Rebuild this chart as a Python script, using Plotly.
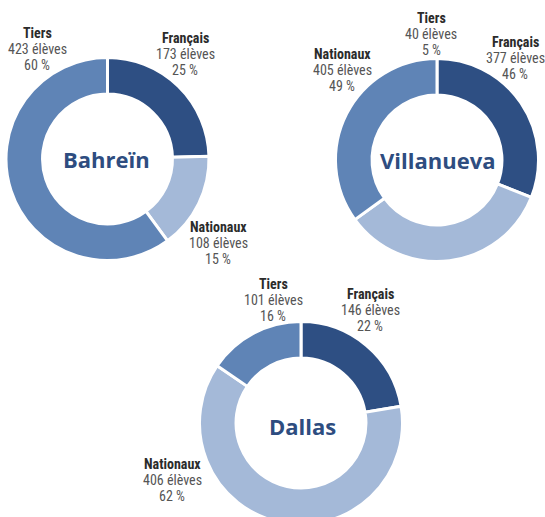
import plotly.graph_objects as go

W, H = 545, 526  # page viewport is 517 tall; the Dallas ring runs off the bottom edge

categories = ["Français", "Nationaux", "Tiers"]

bahrein_eleves = [173, 108, 423]
bahrein_pct = [25, 15, 60]

villanueva_eleves = [377, 405, 40]
villanueva_pct = [46, 49, 5]
# slice sizes as actually drawn in the reference for Villanueva (%)
villanueva_drawn = [31, 34, 35]

dallas_eleves = [146, 406, 101]
dallas_pct = [22, 62, 16]

DARK = "#2E4F83"
LIGHT = "#A4B9D8"
MID = "#5F84B6"
TITLE_COL = "#2E4D80"
colors = [DARK, LIGHT, MID]

LABEL_FONT = "Roboto Condensed, DejaVu Sans Condensed, sans-serif"
TITLE_FONT = "Open Sans, sans-serif"


def px_dom(cx, cy, r):
    return dict(x=[(cx - r) / W, (cx + r) / W],
                y=[max(0.0, 1 - (cy + r) / H), min(1.0, 1 - (cy - r) / H)])


fig = go.Figure()

pies = [
    ("Bahreïn", bahrein_eleves, (107.5, 159.0, 101.5)),
    ("Villanueva", villanueva_drawn, (437.0, 160.0, 101.5)),
    ("Dallas", dallas_eleves, (301.0, 423.0, 101.5)),
]
for name, vals, (cx, cy, r) in pies:
    fig.add_trace(go.Pie(
        labels=categories, values=vals, name=name,
        hole=0.64, sort=False, direction="clockwise", rotation=0,
        marker=dict(colors=colors, line=dict(color="white", width=3)),
        textinfo="none", hoverinfo="label+value",
        domain=px_dom(cx, cy, r), showlegend=False,
    ))

annotations = []


def add_text(x, y, text, size, color, family, bold=False):
    annotations.append(dict(
        x=x / W, y=1 - y / H, xref="paper", yref="paper",
        text=f"<b>{text}</b>" if bold else text,
        showarrow=False, xanchor="center", yanchor="middle",
        font=dict(size=size, color=color, family=family),
    ))


def add_label(x, y0, cat, n, p):
    add_text(x, y0, cat, 14, "#2b2b2b", LABEL_FONT, bold=True)
    add_text(x, y0 + 16, f"{n} élèves", 14, "#555555", LABEL_FONT)
    add_text(x, y0 + 32, f"{p} %", 14, "#555555", LABEL_FONT)


# label placements (px): Français, Nationaux, Tiers
bahrein_pos = [(185, 38), (218, 227), (37, 33)]
villanueva_pos = [(515, 42), (342, 54), (431, 18)]
dallas_pos = [(370, 294), (172, 464), (273, 284)]

for pos, ns, ps in [(bahrein_pos, bahrein_eleves, bahrein_pct),
                    (villanueva_pos, villanueva_eleves, villanueva_pct),
                    (dallas_pos, dallas_eleves, dallas_pct)]:
    for (x, y), cat, n, p in zip(pos, categories, ns, ps):
        add_label(x, y, cat, n, p)

add_text(106.5, 159, "Bahreïn", 22, TITLE_COL, TITLE_FONT, bold=True)
add_text(437.5, 160, "Villanueva", 22, TITLE_COL, TITLE_FONT, bold=True)
add_text(302, 426, "Dallas", 22, TITLE_COL, TITLE_FONT, bold=True)

fig.update_layout(
    width=W, height=H,
    margin=dict(l=0, r=0, t=0, b=0),
    paper_bgcolor="white", plot_bgcolor="white",
    annotations=annotations,
)

fig.write_html(
    "out.html",
    config={"displayModeBar": False},
    post_script=("document.body.style.margin='0';"
                 "document.body.style.overflow='hidden';"
                 "document.documentElement.style.overflow='hidden';"),
)
